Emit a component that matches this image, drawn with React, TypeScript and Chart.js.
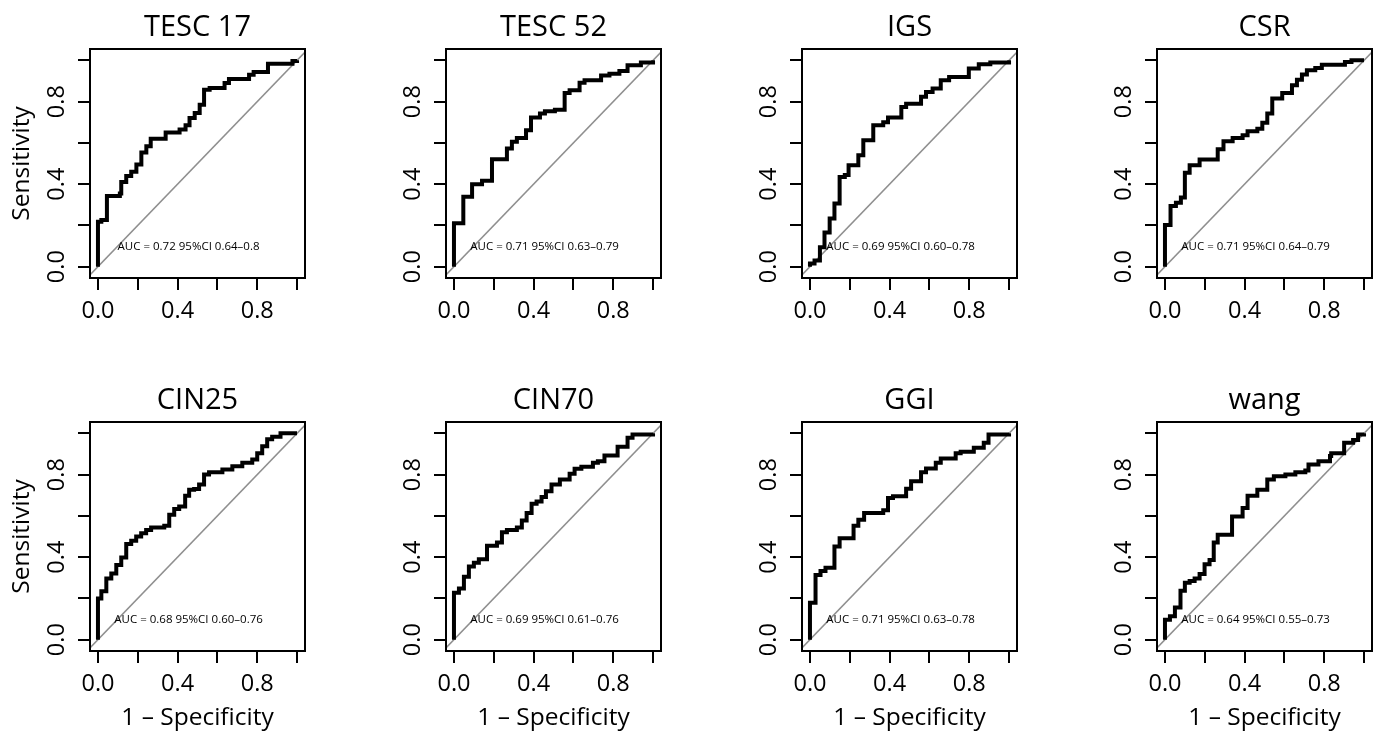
import React, { useEffect, useRef } from 'react';
import { Chart, registerables } from 'chart.js';

Chart.register(...registerables);

// ---------- data ----------
const PANEL_TITLES = ['TESC 17', 'TESC 52', 'IGS', 'CSR', 'CIN25', 'CIN70', 'GGI', 'wang'];

const AUC_LABELS = [
  'AUC = 0.72 95%CI 0.64–0.8',
  'AUC = 0.71 95%CI 0.63–0.79',
  'AUC = 0.69 95%CI 0.60–0.78',
  'AUC = 0.71 95%CI 0.64–0.79',
  'AUC = 0.68 95%CI 0.60–0.76',
  'AUC = 0.69 95%CI 0.61–0.76',
  'AUC = 0.71 95%CI 0.63–0.78',
  'AUC = 0.64 95%CI 0.55–0.73',
];

// ROC curves: 1 - specificity (FPR) and sensitivity (TPR), step vertices
const FPR_TESC17 = [0, 0, 0.017, 0.045, 0.11, 0.117, 0.142, 0.167, 0.193, 0.218, 0.243, 0.265, 0.34, 0.41, 0.44, 0.46, 0.486, 0.511, 0.533, 0.561, 0.636, 0.658, 0.759, 0.782, 0.854, 0.977, 1];
const TPR_TESC17 = [0, 0.218, 0.226, 0.342, 0.355, 0.41, 0.44, 0.46, 0.495, 0.553, 0.584, 0.62, 0.65, 0.665, 0.685, 0.72, 0.745, 0.785, 0.858, 0.866, 0.89, 0.91, 0.93, 0.943, 0.984, 0.997, 1];

const FPR_TESC52 = [0, 0, 0.047, 0.091, 0.141, 0.191, 0.266, 0.291, 0.316, 0.362, 0.387, 0.432, 0.457, 0.507, 0.556, 0.581, 0.631, 0.656, 0.739, 0.781, 0.831, 0.872, 0.939, 1];
const TPR_TESC52 = [0, 0.21, 0.339, 0.4, 0.416, 0.52, 0.573, 0.605, 0.624, 0.661, 0.723, 0.742, 0.753, 0.76, 0.842, 0.855, 0.892, 0.903, 0.927, 0.935, 0.948, 0.976, 0.989, 1];

const FPR_IGS = [0, 0, 0.023, 0.05, 0.073, 0.099, 0.123, 0.149, 0.175, 0.194, 0.243, 0.268, 0.318, 0.368, 0.392, 0.459, 0.483, 0.558, 0.583, 0.616, 0.657, 0.699, 0.798, 0.848, 0.906, 1];
const TPR_IGS = [0, 0.015, 0.03, 0.094, 0.165, 0.234, 0.306, 0.435, 0.444, 0.492, 0.54, 0.613, 0.685, 0.7, 0.723, 0.774, 0.79, 0.823, 0.847, 0.863, 0.903, 0.919, 0.96, 0.981, 0.989, 1];

const FPR_CSR = [0, 0, 0.028, 0.055, 0.08, 0.1, 0.124, 0.174, 0.265, 0.294, 0.34, 0.39, 0.415, 0.464, 0.489, 0.514, 0.539, 0.589, 0.638, 0.663, 0.688, 0.713, 0.755, 0.788, 0.904, 0.937, 1];
const TPR_CSR = [0, 0.202, 0.294, 0.31, 0.335, 0.455, 0.492, 0.519, 0.569, 0.608, 0.624, 0.637, 0.656, 0.669, 0.697, 0.742, 0.815, 0.842, 0.879, 0.906, 0.931, 0.952, 0.963, 0.979, 0.992, 1, 1];

const FPR_CIN25 = [0, 0, 0.017, 0.042, 0.067, 0.092, 0.117, 0.142, 0.167, 0.192, 0.217, 0.242, 0.267, 0.333, 0.358, 0.383, 0.408, 0.438, 0.458, 0.483, 0.508, 0.533, 0.558, 0.625, 0.675, 0.725, 0.775, 0.8, 0.825, 0.85, 0.875, 0.917, 1];
const TPR_CIN25 = [0, 0.2, 0.235, 0.297, 0.321, 0.362, 0.398, 0.464, 0.48, 0.5, 0.516, 0.532, 0.544, 0.552, 0.606, 0.633, 0.646, 0.698, 0.727, 0.73, 0.752, 0.8, 0.812, 0.825, 0.841, 0.857, 0.873, 0.903, 0.938, 0.971, 0.984, 1, 1];

const FPR_CIN70 = [0, 0, 0.025, 0.05, 0.075, 0.1, 0.125, 0.166, 0.216, 0.241, 0.266, 0.316, 0.341, 0.365, 0.39, 0.415, 0.44, 0.462, 0.49, 0.532, 0.581, 0.606, 0.64, 0.698, 0.723, 0.756, 0.822, 0.872, 0.897, 1];
const TPR_CIN70 = [0, 0.227, 0.248, 0.305, 0.354, 0.373, 0.39, 0.455, 0.471, 0.521, 0.532, 0.544, 0.578, 0.614, 0.659, 0.67, 0.692, 0.719, 0.752, 0.776, 0.804, 0.828, 0.838, 0.857, 0.865, 0.893, 0.935, 0.979, 0.995, 1];

const FPR_GGI = [0, 0, 0.028, 0.053, 0.078, 0.123, 0.149, 0.219, 0.243, 0.272, 0.368, 0.392, 0.417, 0.483, 0.508, 0.558, 0.583, 0.632, 0.657, 0.732, 0.757, 0.823, 0.873, 0.897, 1];
const TPR_GGI = [0, 0.179, 0.313, 0.333, 0.349, 0.451, 0.492, 0.552, 0.581, 0.614, 0.627, 0.687, 0.695, 0.732, 0.768, 0.812, 0.83, 0.857, 0.878, 0.903, 0.911, 0.93, 0.955, 0.995, 1];

const FPR_WANG = [0, 0, 0.025, 0.05, 0.078, 0.1, 0.124, 0.149, 0.174, 0.199, 0.224, 0.245, 0.265, 0.337, 0.39, 0.415, 0.464, 0.514, 0.547, 0.605, 0.655, 0.705, 0.721, 0.771, 0.829, 0.835, 0.9, 0.945, 0.97, 1];
const TPR_WANG = [0, 0.097, 0.114, 0.156, 0.237, 0.276, 0.284, 0.297, 0.318, 0.365, 0.386, 0.471, 0.508, 0.597, 0.638, 0.698, 0.727, 0.776, 0.792, 0.8, 0.812, 0.82, 0.849, 0.865, 0.89, 0.903, 0.955, 0.968, 0.995, 1];

const FPR_SERIES = [FPR_TESC17, FPR_TESC52, FPR_IGS, FPR_CSR, FPR_CIN25, FPR_CIN70, FPR_GGI, FPR_WANG];
const TPR_SERIES = [TPR_TESC17, TPR_TESC52, TPR_IGS, TPR_CSR, TPR_CIN25, TPR_CIN70, TPR_GGI, TPR_WANG];

// chance (identity) line
const DIAG = [-0.1, 1.1];

const AXIS_TICKS = [0, 0.2, 0.4, 0.6, 0.8, 1];
const TICK_LABELS = ['0.0', '', '0.4', '', '0.8', ''];

const X_AXIS_TITLE = '1 – Specificity';
const Y_AXIS_TITLE = 'Sensitivity';

// ---------- layout / style ----------
const FONT = "'Open Sans', 'Noto Sans', sans-serif";
const CANVAS_W = 308;
const CANVAS_H = 363;
const COL_LEFTS = [0, 356, 712, 1067];
const ROW_TOPS = [0, 373];

Chart.defaults.font.family = FONT;
Chart.defaults.color = '#000';

function makeDecorPlugin(index: number) {
  return {
    id: 'rocDecor' + index,
    afterDraw(chart: any) {
      const { ctx, chartArea: a, scales } = chart;
      const xs = scales.x;
      const ys = scales.y;
      ctx.save();
      // frame
      ctx.strokeStyle = '#000';
      ctx.lineWidth = 2;
      ctx.strokeRect(a.left, a.top, a.right - a.left, a.bottom - a.top);
      // panel title
      ctx.fillStyle = '#000';
      ctx.font = `29px ${FONT}`;
      ctx.textAlign = 'center';
      ctx.textBaseline = 'alphabetic';
      ctx.fillText(PANEL_TITLES[index], (a.left + a.right) / 2, a.top - 13.5);
      // rotated y tick labels (R style)
      ctx.font = `23.5px ${FONT}`;
      AXIS_TICKS.forEach((v, i) => {
        const lbl = TICK_LABELS[i];
        if (!lbl) return;
        const py = ys.getPixelForValue(v);
        ctx.save();
        ctx.translate(a.left - 26.5, py);
        ctx.rotate(-Math.PI / 2);
        ctx.textAlign = 'center';
        ctx.textBaseline = 'alphabetic';
        ctx.fillText(lbl, 0, 0);
        ctx.restore();
      });
      // AUC annotation
      ctx.font = `11.5px ${FONT}`;
      ctx.textAlign = 'center';
      ctx.textBaseline = 'middle';
      ctx.fillText(AUC_LABELS[index], xs.getPixelForValue(0.455), ys.getPixelForValue(0.097));
      ctx.restore();
    },
  };
}

function RocPanel({ index }: { index: number }) {
  const ref = useRef<HTMLCanvasElement | null>(null);
  const row = Math.floor(index / 4);
  const col = index % 4;

  useEffect(() => {
    if (!ref.current) return;
    const showX = row === 1;
    const showY = col === 0;
    const fpr = FPR_SERIES[index];
    const tpr = TPR_SERIES[index];
    const rocPoints = fpr.map((x, i) => ({ x, y: tpr[i] }));
    const diagPoints = DIAG.map((v) => ({ x: v, y: v }));

    const chart = new Chart(ref.current, {
      type: 'scatter',
      data: {
        datasets: [
          {
            data: rocPoints,
            showLine: true,
            stepped: 'before',
            borderColor: '#000',
            borderWidth: 4,
            borderJoinStyle: 'miter',
            borderCapStyle: 'butt',
            pointRadius: 0,
            fill: false,
          },
          {
            data: diagPoints,
            showLine: true,
            borderColor: '#8f8f8f',
            borderWidth: 1.5,
            pointRadius: 0,
            fill: false,
            clip: 0,
          },
        ],
      },
      options: {
        animation: false,
        responsive: false,
        devicePixelRatio: 1,
        events: [],
        layout: { padding: { top: 49, left: 0, right: 3, bottom: 0 } },
        plugins: {
          legend: { display: false },
          tooltip: { enabled: false },
          title: { display: false },
        },
        scales: {
          x: {
            type: 'linear',
            position: 'bottom',
            min: -0.04,
            max: 1.04,
            afterBuildTicks: (scale: any) => {
              scale.ticks = AXIS_TICKS.map((v) => ({ value: v }));
            },
            afterFit: (scale: any) => {
              scale.height = CANVAS_H - 278;
            },
            ticks: {
              autoSkip: false,
              maxRotation: 0,
              minRotation: 0,
              padding: 7,
              color: '#000',
              font: { size: 23.5, family: FONT },
              callback: (_v: any, i: number) => TICK_LABELS[i],
            },
            grid: {
              display: true,
              drawOnChartArea: false,
              drawTicks: true,
              tickLength: 12,
              tickColor: '#000',
              tickWidth: 2,
              lineWidth: 2,
              color: '#000',
            },
            border: { display: false },
            title: {
              display: showX,
              text: X_AXIS_TITLE,
              color: '#000',
              font: { size: 24.5, family: FONT },
              padding: { top: 0, bottom: 3 },
            },
          },
          y: {
            type: 'linear',
            position: 'left',
            min: -0.055,
            max: 1.055,
            afterBuildTicks: (scale: any) => {
              scale.ticks = AXIS_TICKS.map((v) => ({ value: v }));
            },
            afterFit: (scale: any) => {
              scale.width = 90;
            },
            ticks: { display: false, autoSkip: false },
            grid: {
              display: true,
              drawOnChartArea: false,
              drawTicks: true,
              tickLength: 12,
              tickColor: '#000',
              tickWidth: 2,
              lineWidth: 2,
              color: '#000',
            },
            border: { display: false },
            title: {
              display: showY,
              text: Y_AXIS_TITLE,
              color: '#000',
              font: { size: 24.5, family: FONT },
              padding: { top: 7, bottom: 0 },
            },
          },
        },
      } as any,
      plugins: [makeDecorPlugin(index)],
    });
    return () => chart.destroy();
  }, [index, row, col]);

  return (
    <canvas
      ref={ref}
      width={CANVAS_W}
      height={CANVAS_H}
      style={{
        position: 'absolute',
        left: COL_LEFTS[col],
        top: ROW_TOPS[row],
        width: CANVAS_W,
        height: CANVAS_H,
      }}
    />
  );
}

export default function App() {
  return (
    <div
      style={{
        position: 'fixed',
        left: 0,
        top: 0,
        width: 1375,
        height: 736,
        background: '#fff',
        overflow: 'hidden',
      }}
    >
      {PANEL_TITLES.map((_, i) => (
        <RocPanel key={i} index={i} />
      ))}
    </div>
  );
}
